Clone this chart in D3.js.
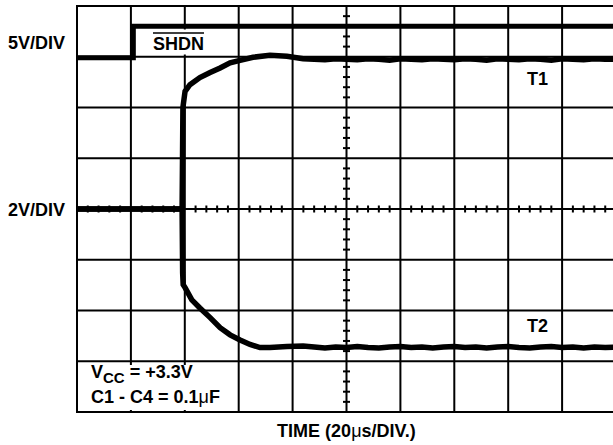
<!DOCTYPE html>
<html>
<head>
<meta charset="utf-8">
<script src="https://cdn.jsdelivr.net/npm/d3@7/dist/d3.min.js"></script>
<style>
  html, body { margin: 0; padding: 0; background: #fff; }
  svg { display: block; }
  text { font-family: "Liberation Sans", Arial, Helvetica, sans-serif; font-weight: bold; fill: #000; }
</style>
</head>
<body>
<svg id="chart" width="613" height="445"></svg>
<script>
// ---- data (time in µs, 20 µs/div; vertical position in screen divisions, 0 = centre line) ----
const xDivisions = [0, 20, 40, 60, 80, 100, 120, 140, 160, 180, 200];
const yDivisions = [-4, -3, -2, -1, 0, 1, 2, 3, 4];
const minorStepX = 4;      // 5 minor ticks per division (µs)
const minorStepY = 0.2;    // 5 minor ticks per division

const shdnTime = [0, 20.9, 20.9, 200];
const shdnVolt = [2.98, 2.98, 3.6, 3.6];

const t1Time = [0, 39.0, 39.3, 40.1, 41.9, 45.6, 49.4, 53.1, 56.8, 60.5, 65.3, 71.6, 77.9, 83.9,
  88, 92, 96, 100, 104, 108, 112, 116, 120, 124, 128, 132, 136, 140, 144, 148, 152, 156, 160,
  164, 168, 172, 176, 180, 184, 188, 192, 196, 200];
const t1Volt = [0, 0, 2.0, 2.32, 2.45, 2.59, 2.69, 2.78, 2.88, 2.93, 2.99, 3.03, 3.01, 2.96,
  2.95, 2.94, 2.96, 2.95, 2.94, 2.96, 2.95, 2.93, 2.96, 2.95, 2.94, 2.96, 2.95, 2.94, 2.96, 2.95,
  2.93, 2.96, 2.95, 2.94, 2.96, 2.95, 2.93, 2.96, 2.95, 2.94, 2.96, 2.95, 2.95];

const t2Time = [0, 39.0, 39.2, 39.4, 40.1, 42.6, 45.6, 49.4, 53.1, 56.8, 60.5, 64.2, 67.9, 71.6,
  77.9, 83.9, 88, 92, 96, 100, 104, 108, 112, 116, 120, 124, 128, 132, 136, 140, 144, 148, 152,
  156, 160, 164, 168, 172, 176, 180, 184, 188, 192, 196, 200];
const t2Volt = [0, 0, -1.26, -1.49, -1.55, -1.79, -1.95, -2.14, -2.34, -2.48, -2.58, -2.67, -2.73,
  -2.73, -2.71, -2.70, -2.72, -2.74, -2.72, -2.73, -2.71, -2.73, -2.74, -2.72, -2.71, -2.73, -2.72,
  -2.74, -2.72, -2.71, -2.73, -2.72, -2.74, -2.72, -2.71, -2.73, -2.74, -2.72, -2.71, -2.73, -2.72,
  -2.74, -2.72, -2.73, -2.72];

// ---- layout ----
const svg = d3.select("#chart");
const x = d3.scaleLinear().domain([0, 200]).range([77, 616]);
const y = d3.scaleLinear().domain([-4, 4]).range([412, 6]);

const grid = svg.append("g").attr("stroke", "#000").attr("stroke-width", 2).attr("fill", "none");

grid.selectAll("line.v").data(xDivisions).join("line")
  .attr("class", "v")
  .attr("x1", d => x(d)).attr("x2", d => x(d))
  .attr("y1", y(4) - 1).attr("y2", y(-4) + 1);

grid.selectAll("line.h").data(yDivisions).join("line")
  .attr("class", "h")
  .attr("y1", d => y(d)).attr("y2", d => y(d))
  .attr("x1", x(0) - 1).attr("x2", x(200) + 1);

// minor ticks on the centre lines
const minorX = d3.range(0, 200 + 0.001, minorStepX).filter(d => Math.abs(d % 20) > 0.001);
const minorY = d3.range(-4, 4 + 0.001, minorStepY).filter(d => Math.abs(Math.round(d * 10) % 10) > 0.001);

grid.selectAll("line.mx").data(minorX).join("line")
  .attr("class", "mx")
  .attr("x1", d => x(d)).attr("x2", d => x(d))
  .attr("y1", y(0) - 3.5).attr("y2", y(0) + 3.5);

grid.selectAll("line.my").data(minorY).join("line")
  .attr("class", "my")
  .attr("y1", d => y(d)).attr("y2", d => y(d))
  .attr("x1", x(100) - 3.5).attr("x2", x(100) + 3.5);

// white label boxes
svg.append("rect").attr("x", 138).attr("y", 29.5).attr("width", 74).attr("height", 25).attr("fill", "#fff");
svg.append("rect").attr("x", 79).attr("y", 365).attr("width", 158).attr("height", 45).attr("fill", "#fff");

// traces
const line = d3.line().x(d => x(d[0])).y(d => y(d[1]));
const traces = [
  { t: shdnTime, v: shdnVolt, w: 5 },
  { t: t1Time, v: t1Volt, w: 5.5 },
  { t: t2Time, v: t2Volt, w: 5.5 }
];
svg.append("g").selectAll("path").data(traces).join("path")
  .attr("d", s => line(s.t.map((t, i) => [t, s.v[i]])))
  .attr("fill", "none").attr("stroke", "#000")
  .attr("stroke-width", s => s.w)
  .attr("stroke-linejoin", "miter").attr("stroke-linecap", "butt");

// labels
const fs = 18;
svg.append("text").attr("x", 8).attr("y", 49).attr("font-size", fs).text("5V/DIV");
svg.append("text").attr("x", 8).attr("y", 216).attr("font-size", fs).text("2V/DIV");

const shdn = svg.append("text").attr("x", 153).attr("y", 50).attr("font-size", fs).text("SHDN");
const sw = shdn.node().getComputedTextLength();
svg.append("line").attr("x1", 153).attr("x2", 153 + sw).attr("y1", 33).attr("y2", 33)
  .attr("stroke", "#000").attr("stroke-width", 1.5);

svg.append("text").attr("x", 527).attr("y", 85).attr("font-size", fs).text("T1");
svg.append("text").attr("x", 527).attr("y", 332).attr("font-size", fs).text("T2");

const vcc = svg.append("text").attr("x", 91).attr("y", 378).attr("font-size", fs);
vcc.append("tspan").text("V");
vcc.append("tspan").attr("font-size", 15).attr("dy", 5).text("CC");
vcc.append("tspan").attr("dy", -5).text(" = +3.3V");

const cap = svg.append("text").attr("x", 91).attr("y", 403).attr("font-size", fs);
cap.append("tspan").text("C1 - C4 = 0.1");
cap.append("tspan").attr("font-weight", "normal").text("μ");
cap.append("tspan").text("F");

const tl = svg.append("text").attr("x", x(100)).attr("y", 437).attr("font-size", fs).attr("text-anchor", "middle");
tl.append("tspan").text("TIME (20");
tl.append("tspan").attr("font-weight", "normal").text("μ");
tl.append("tspan").text("s/DIV.)");
</script>
</body>
</html>
